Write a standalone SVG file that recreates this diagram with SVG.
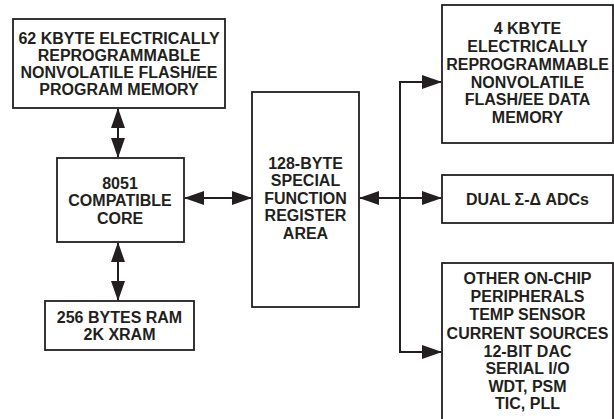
<svg xmlns="http://www.w3.org/2000/svg" width="614" height="419" viewBox="0 0 614 419">
<defs>
<style>
.box{fill:#fff;stroke:#231f20;stroke-width:1.8}
.t{font-family:"Liberation Sans",Arial,Helvetica,sans-serif;font-weight:bold;font-size:16px;fill:#231f20;text-anchor:middle}
.c{fill:none;stroke:#231f20;stroke-width:2}
</style>
<marker id="ah" markerUnits="userSpaceOnUse" markerWidth="20" markerHeight="14" refX="19" refY="7" orient="auto-start-reverse" viewBox="0 0 20 14">
<path d="M0,0 L20,7 L0,14 z" fill="#231f20"/>
</marker>
</defs>
<rect width="614" height="419" fill="#fff"/>
<g id="connectors">
<path class="c" d="M118,109 V157" marker-start="url(#ah)" marker-end="url(#ah)"/>
<path class="c" d="M118,243 V300" marker-start="url(#ah)" marker-end="url(#ah)"/>
<path class="c" d="M185,198 H251" marker-start="url(#ah)" marker-end="url(#ah)"/>
<path class="c" d="M360,198 H441" marker-start="url(#ah)" marker-end="url(#ah)"/>
<path class="c" d="M400,82 V352"/>
<path class="c" d="M399,82 H441" marker-end="url(#ah)"/>
<path class="c" d="M399,352 H441" marker-end="url(#ah)"/>
</g>
<g id="program-memory">
<rect class="box" x="13" y="19" width="212" height="89"/>
<text class="t" x="119" y="43.5">62 KBYTE ELECTRICALLY</text>
<text class="t" x="119" y="60.5">REPROGRAMMABLE</text>
<text class="t" x="119" y="77.5">NONVOLATILE FLASH/EE</text>
<text class="t" x="119" y="94.5">PROGRAM MEMORY</text>
</g>
<g id="core">
<rect class="box" x="57" y="158" width="127" height="84"/>
<text class="t" x="120" y="188.5">8051</text>
<text class="t" x="120" y="206">COMPATIBLE</text>
<text class="t" x="120" y="223.5">CORE</text>
</g>
<g id="ram">
<rect class="box" x="45" y="301" width="149" height="49"/>
<text class="t" x="119.5" y="322.5">256 BYTES RAM</text>
<text class="t" x="119.5" y="340">2K XRAM</text>
</g>
<g id="sfr">
<rect class="box" x="252" y="92" width="107" height="215"/>
<text class="t" x="305.5" y="168.5">128-BYTE</text>
<text class="t" x="305.5" y="186">SPECIAL</text>
<text class="t" x="305.5" y="203.5">FUNCTION</text>
<text class="t" x="305.5" y="221">REGISTER</text>
<text class="t" x="305.5" y="238.5">AREA</text>
</g>
<g id="data-memory">
<rect class="box" x="442" y="5" width="171" height="138"/>
<text class="t" x="527.5" y="33.5">4 KBYTE</text>
<text class="t" x="527.5" y="51.5">ELECTRICALLY</text>
<text class="t" x="527.5" y="69.5">REPROGRAMMABLE</text>
<text class="t" x="527.5" y="87.5">NONVOLATILE</text>
<text class="t" x="527.5" y="105">FLASH/EE DATA</text>
<text class="t" x="527.5" y="122.5">MEMORY</text>
</g>
<g id="adc">
<rect class="box" x="442" y="175" width="171" height="48"/>
<text class="t" x="527.5" y="205">DUAL Σ-Δ ADCs</text>
</g>
<g id="peripherals">
<rect class="box" x="442" y="263" width="171" height="170"/>
<text class="t" x="527.5" y="284">OTHER ON-CHIP</text>
<text class="t" x="527.5" y="302">PERIPHERALS</text>
<text class="t" x="527.5" y="320">TEMP SENSOR</text>
<text class="t" x="527.5" y="339">CURRENT SOURCES</text>
<text class="t" x="527.5" y="357">12-BIT DAC</text>
<text class="t" x="527.5" y="374">SERIAL I/O</text>
<text class="t" x="527.5" y="392">WDT, PSM</text>
<text class="t" x="527.5" y="409">TIC, PLL</text>
</g>
</svg>
